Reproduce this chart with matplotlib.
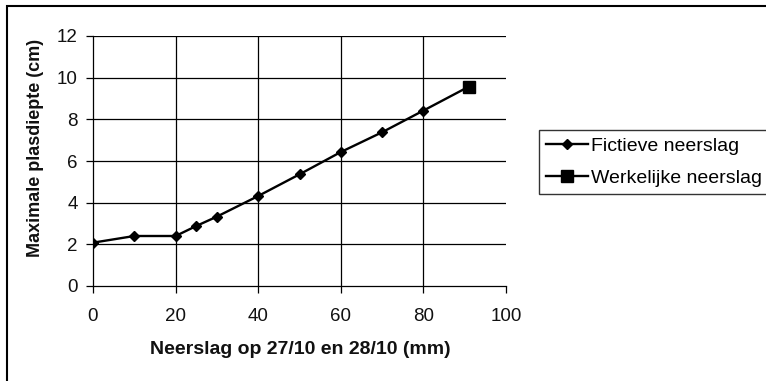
import matplotlib
matplotlib.use("Agg")
import matplotlib.pyplot as plt
from matplotlib.patches import Rectangle
from matplotlib.lines import Line2D

plt.rcParams['font.family'] = ['Liberation Sans', 'DejaVu Sans']

# Fictitious rainfall scenarios (mm) and resulting max pond depth (cm)
fictieve_x = [0, 10, 20, 25, 30, 40, 50, 60, 70, 80, 91]
fictieve_y = [2.08, 2.4, 2.4, 2.88, 3.33, 4.32, 5.36, 6.43, 7.38, 8.42, 9.57]
# Observed rainfall
werkelijke_x = [91]
werkelijke_y = [9.57]

x_ticks = [0, 20, 40, 60, 80, 100]
y_ticks = [0, 2, 4, 6, 8, 10, 12]

W, H = 766, 381
fig = plt.figure(figsize=(W / 100, H / 100), dpi=100)
ax = fig.add_axes([93 / W, 1 - 286 / H, (506 - 93) / W, (286 - 36) / H])

ax.plot(fictieve_x, fictieve_y, color='black', lw=1.7, marker='D', ms=4.8,
        mfc='black', mec='black', zorder=3)
ax.plot(werkelijke_x, werkelijke_y, color='black', lw=1.7, marker='s', ms=9,
        mfc='black', mec='black', zorder=4, clip_on=False)

ax.set_xlim(0, 100)
ax.set_ylim(0, 12)
ax.set_xticks(x_ticks)
ax.set_yticks(y_ticks)
ax.tick_params(axis='both', direction='out', length=5, width=0.9, color='black',
               labelsize=13.5, labelcolor='#111111')
ax.tick_params(axis='x', pad=11)
ax.tick_params(axis='y', pad=6)

# gridlines: horizontal at every tick, vertical at every tick except the last
for y in y_ticks[1:]:
    ax.axhline(y, color='black', lw=0.9, zorder=1)
for x in x_ticks[1:-1]:
    ax.axvline(x, color='black', lw=0.9, zorder=1)

for side in ('top', 'right'):
    ax.spines[side].set_visible(False)
for side in ('left', 'bottom'):
    ax.spines[side].set_linewidth(0.9)
    ax.spines[side].set_color('black')

fig.text(300 / W, 1 - 349 / H, 'Neerslag op 27/10 en 28/10 (mm)', ha='center',
         va='center', fontsize=14, fontweight='bold', color='#111111')
fig.text(36 / W, 1 - 148 / H, 'Maximale plasdiepte (cm)', ha='center',
         va='center', rotation=90, fontsize=13, fontweight='bold', color='#111111')

handles = [
    Line2D([], [], color='black', lw=1.7, marker='D', ms=4.8),
    Line2D([], [], color='black', lw=1.7, marker='s', ms=9),
]
leg = fig.legend(handles, ['Fictieve neerslag', 'Werkelijke neerslag'],
                 loc='upper left', bbox_to_anchor=(539 / W, 1 - 130 / H),
                 bbox_transform=fig.transFigure, borderaxespad=0,
                 fontsize=14, frameon=True, fancybox=False, shadow=False,
                 edgecolor='black', handlelength=2.15, handletextpad=0.15,
                 labelspacing=0.72, borderpad=0.38)
leg.get_frame().set_linewidth(1.0)

# outer chart border
fig.patches.append(Rectangle((7 / W, -0.05), 1.1, 1 - 6 / H + 0.05,
                             transform=fig.transFigure, fill=False,
                             edgecolor='black', lw=1.5))

fig.savefig('out.png', dpi=100, facecolor='white')
